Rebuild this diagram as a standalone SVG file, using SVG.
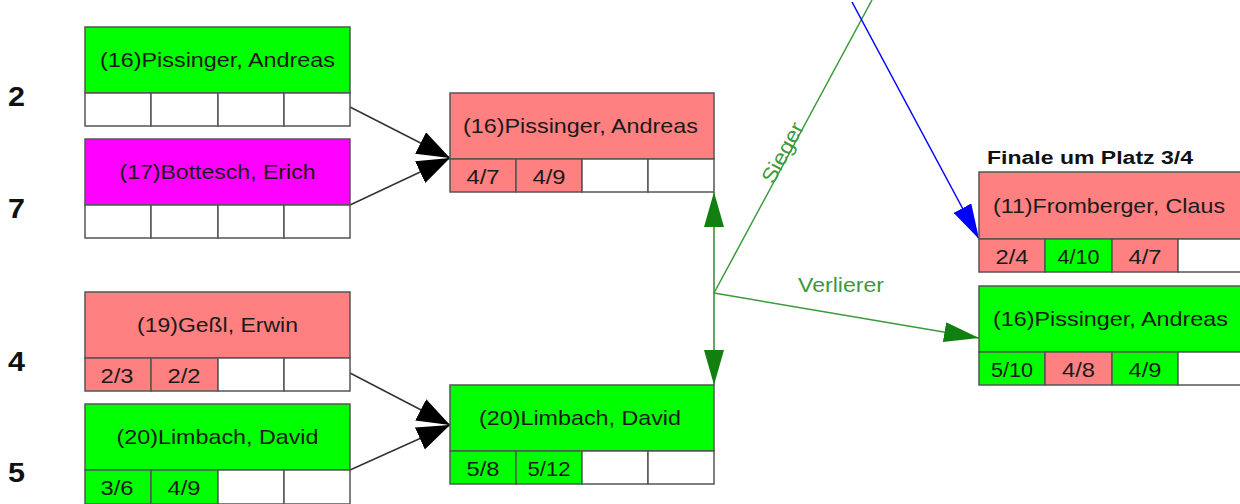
<svg xmlns="http://www.w3.org/2000/svg" width="1240" height="504" viewBox="0 0 1240 504">
<style>
.hd{stroke:#555;stroke-width:1.5}
.c{stroke:#555;stroke-width:1.5}
.g{fill:#00ff00}.p{fill:#ff8080}.m{fill:#ff00ff}.w{fill:#ffffff}
.t{font-family:"Liberation Sans",Arial,sans-serif;font-size:21px;fill:#1a1a1a}
.s{font-family:"Liberation Sans",Arial,sans-serif;font-size:21px;fill:#1a1a1a;text-anchor:middle}
.n{font-family:"Liberation Sans",Arial,sans-serif;font-size:28px;font-weight:bold;fill:#111}
.lab{font-family:"Liberation Sans",Arial,sans-serif;font-size:21px;fill:#3c9a3c}
</style>
<defs>
<marker id="ab" markerUnits="userSpaceOnUse" markerWidth="34" markerHeight="24" refX="33" refY="12" orient="auto"><path d="M0,0 L33,12 L0,24 z" fill="#000"/></marker>
<marker id="ag" markerUnits="userSpaceOnUse" markerWidth="36" markerHeight="20" refX="35" refY="10" orient="auto"><path d="M0,0 L35,10 L0,20 z" fill="#118011"/></marker>
<marker id="abl" markerUnits="userSpaceOnUse" markerWidth="36" markerHeight="20" refX="35" refY="10" orient="auto"><path d="M0,0 L35,10 L0,20 z" fill="#0000ff"/></marker>
</defs>
<rect width="1240" height="504" fill="#fff"/>
<g id="seeds">
<text class="n" x="8" y="106" textLength="17" lengthAdjust="spacingAndGlyphs">2</text>
<text class="n" x="8" y="218" textLength="17" lengthAdjust="spacingAndGlyphs">7</text>
<text class="n" x="8" y="371" textLength="17" lengthAdjust="spacingAndGlyphs">4</text>
<text class="n" x="8" y="482" textLength="17" lengthAdjust="spacingAndGlyphs">5</text>
</g>
<g id="connectors" fill="none">
<line x1="350" y1="107" x2="450" y2="158" stroke="#333" stroke-width="1.5" marker-end="url(#ab)"/>
<line x1="350" y1="205" x2="450" y2="158" stroke="#333" stroke-width="1.5" marker-end="url(#ab)"/>
<line x1="350" y1="373" x2="450" y2="425" stroke="#333" stroke-width="1.5" marker-end="url(#ab)"/>
<line x1="350" y1="470" x2="450" y2="425" stroke="#333" stroke-width="1.5" marker-end="url(#ab)"/>
<line x1="714" y1="293" x2="714" y2="192" stroke="#2e8b2e" stroke-width="1.5" marker-end="url(#ag)"/>
<line x1="714" y1="293" x2="714" y2="385" stroke="#2e8b2e" stroke-width="1.5" marker-end="url(#ag)"/>
<line x1="714" y1="293" x2="872" y2="0" stroke="#3a9a3a" stroke-width="1.5"/>
<line x1="714" y1="293" x2="979" y2="338" stroke="#3a9a3a" stroke-width="1.5" marker-end="url(#ag)"/>
<line x1="852" y1="2" x2="979" y2="239" stroke="#0000ff" stroke-width="1.5" marker-end="url(#abl)"/>
<text class="lab" x="0" y="0" text-anchor="middle" textLength="66" lengthAdjust="spacingAndGlyphs" transform="translate(789,156) rotate(-61.7)">Sieger</text>
<text class="lab" x="841" y="292" text-anchor="middle" textLength="86" lengthAdjust="spacingAndGlyphs">Verlierer</text>
</g>
<g id="n1">
<rect class="g hd" x="85" y="27" width="265" height="66"/>
<text class="t" x="217.5" y="67" text-anchor="middle" textLength="235" lengthAdjust="spacingAndGlyphs">(16)Pissinger, Andreas</text>
<rect class="w c" x="85" y="93" width="66" height="33"/><rect class="w c" x="151" y="93" width="67" height="33"/><rect class="w c" x="218" y="93" width="66" height="33"/><rect class="w c" x="284" y="93" width="66" height="33"/>
</g>
<g id="n2">
<rect class="m hd" x="85" y="139" width="265" height="66"/>
<text class="t" x="217.5" y="179" text-anchor="middle" textLength="196" lengthAdjust="spacingAndGlyphs">(17)Bottesch, Erich</text>
<rect class="w c" x="85" y="205" width="66" height="33"/><rect class="w c" x="151" y="205" width="67" height="33"/><rect class="w c" x="218" y="205" width="66" height="33"/><rect class="w c" x="284" y="205" width="66" height="33"/>
</g>
<g id="n3">
<rect class="p hd" x="85" y="292" width="265" height="66"/>
<text class="t" x="217.5" y="332" text-anchor="middle" textLength="161" lengthAdjust="spacingAndGlyphs">(19)Geßl, Erwin</text>
<rect class="p c" x="85" y="358" width="66" height="33"/><rect class="p c" x="151" y="358" width="67" height="33"/><rect class="w c" x="218" y="358" width="66" height="33"/><rect class="w c" x="284" y="358" width="66" height="33"/>
<text class="s" x="117" y="383" textLength="33" lengthAdjust="spacingAndGlyphs">2/3</text><text class="s" x="184" y="383" textLength="33" lengthAdjust="spacingAndGlyphs">2/2</text>
</g>
<g id="n4">
<rect class="g hd" x="85" y="404" width="265" height="66"/>
<text class="t" x="217.5" y="444" text-anchor="middle" textLength="202" lengthAdjust="spacingAndGlyphs">(20)Limbach, David</text>
<rect class="g c" x="85" y="470" width="66" height="34"/><rect class="g c" x="151" y="470" width="67" height="34"/><rect class="w c" x="218" y="470" width="66" height="34"/><rect class="w c" x="284" y="470" width="66" height="34"/>
<text class="s" x="117" y="495" textLength="33" lengthAdjust="spacingAndGlyphs">3/6</text><text class="s" x="184" y="495" textLength="33" lengthAdjust="spacingAndGlyphs">4/9</text>
</g>
<g id="n5">
<rect class="p hd" x="450" y="93" width="264" height="66"/>
<text class="t" x="580.5" y="133" text-anchor="middle" textLength="235" lengthAdjust="spacingAndGlyphs">(16)Pissinger, Andreas</text>
<rect class="p c" x="450" y="159" width="66" height="33"/><rect class="p c" x="516" y="159" width="66" height="33"/><rect class="w c" x="582" y="159" width="66" height="33"/><rect class="w c" x="648" y="159" width="66" height="33"/>
<text class="s" x="483" y="184" textLength="33" lengthAdjust="spacingAndGlyphs">4/7</text><text class="s" x="549" y="184" textLength="33" lengthAdjust="spacingAndGlyphs">4/9</text>
</g>
<g id="n6">
<rect class="g hd" x="450" y="385" width="264" height="66"/>
<text class="t" x="580" y="425" text-anchor="middle" textLength="202" lengthAdjust="spacingAndGlyphs">(20)Limbach, David</text>
<rect class="g c" x="450" y="451" width="66" height="33"/><rect class="g c" x="516" y="451" width="66" height="33"/><rect class="w c" x="582" y="451" width="66" height="33"/><rect class="w c" x="648" y="451" width="66" height="33"/>
<text class="s" x="483" y="476" textLength="33" lengthAdjust="spacingAndGlyphs">5/8</text><text class="s" x="549" y="476" textLength="43" lengthAdjust="spacingAndGlyphs">5/12</text>
</g>
<g id="title">
<text x="987" y="164" font-family="Liberation Sans,Arial,sans-serif" font-size="18" font-weight="bold" fill="#111" textLength="206" lengthAdjust="spacingAndGlyphs">Finale um Platz 3/4</text>
</g>
<g id="n7">
<rect class="p hd" x="979" y="172" width="270" height="67"/>
<text class="t" x="993" y="213" textLength="232" lengthAdjust="spacingAndGlyphs">(11)Fromberger, Claus</text>
<rect class="p c" x="979" y="239" width="66" height="33"/><rect class="g c" x="1045" y="239" width="67" height="33"/><rect class="p c" x="1112" y="239" width="66" height="33"/><rect class="w c" x="1178" y="239" width="70" height="33"/>
<text class="s" x="1012" y="264" textLength="33" lengthAdjust="spacingAndGlyphs">2/4</text><text class="s" x="1078.5" y="264" textLength="42" lengthAdjust="spacingAndGlyphs">4/10</text><text class="s" x="1145" y="264" textLength="33" lengthAdjust="spacingAndGlyphs">4/7</text>
</g>
<g id="n8">
<rect class="g hd" x="979" y="286" width="270" height="66"/>
<text class="t" x="993" y="326" textLength="235" lengthAdjust="spacingAndGlyphs">(16)Pissinger, Andreas</text>
<rect class="g c" x="979" y="352" width="66" height="33"/><rect class="p c" x="1045" y="352" width="67" height="33"/><rect class="g c" x="1112" y="352" width="66" height="33"/><rect class="w c" x="1178" y="352" width="70" height="33"/>
<text class="s" x="1012" y="377" textLength="42" lengthAdjust="spacingAndGlyphs">5/10</text><text class="s" x="1078.5" y="377" textLength="33" lengthAdjust="spacingAndGlyphs">4/8</text><text class="s" x="1145" y="377" textLength="33" lengthAdjust="spacingAndGlyphs">4/9</text>
</g>
</svg>
